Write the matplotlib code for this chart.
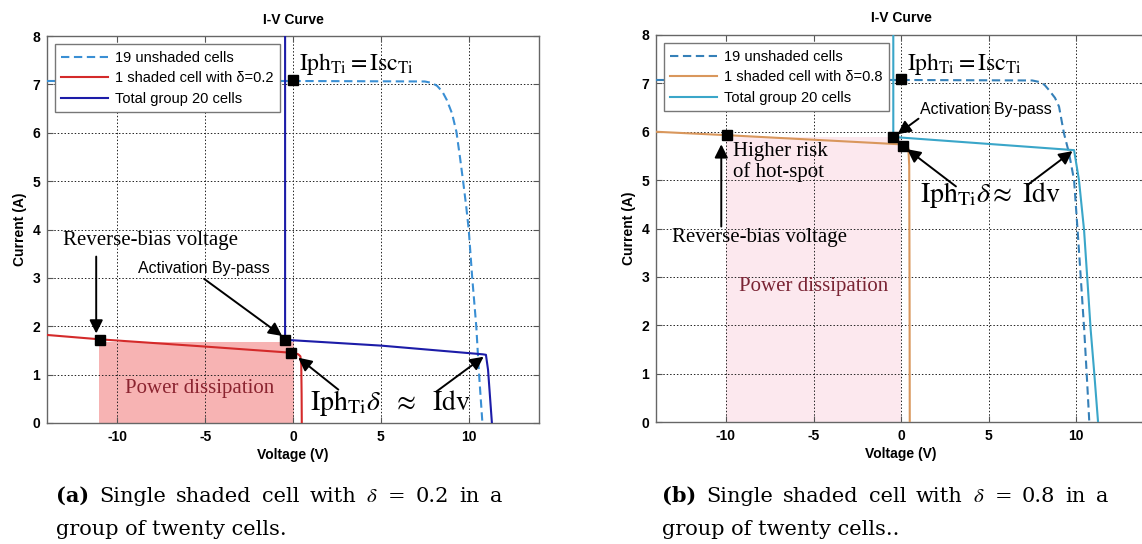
import matplotlib
matplotlib.use('Agg')
import matplotlib.pyplot as plt
from matplotlib.lines import Line2D

plt.rcParams['font.family'] = ['Liberation Sans', 'DejaVu Sans']
plt.rcParams['mathtext.fontset'] = 'stix'
plt.rcParams['axes.unicode_minus'] = False

SERIF = ['Liberation Serif', 'DejaVu Serif']
CAP_SERIF = ['DejaVu Serif']

# ---- data ----
# (a) delta = 0.2
v_unsh_a = [-14, 0, 7.5, 7.9, 8.2, 8.5, 8.75, 9.05, 9.3, 9.5, 9.68, 9.85, 10.0, 10.2, 10.43, 10.59, 10.78]
i_unsh_a = [7.07, 7.07, 7.06, 7.03, 6.97, 6.85, 6.68, 6.4, 6.02, 5.5, 5.0, 4.5, 4.0, 3.0, 2.0, 1.0, 0.0]
v_shad_a = [-14, -11, -5, 0, 0.3, 0.42, 0.47, 0.49, 0.5]
i_shad_a = [1.82, 1.73, 1.58, 1.45, 1.42, 1.38, 1.2, 0.6, 0.0]
v_tot_a = [-0.45, -0.45, 0, 5, 10.8, 10.98, 11.1, 11.2, 11.32]
i_tot_a = [8.5, 1.72, 1.71, 1.6, 1.42, 1.41, 1.1, 0.6, 0.0]
mark_v_a = [-11.0, -0.45, -0.1, 0.0]
mark_i_a = [1.72, 1.72, 1.44, 7.09]
rect_a = (-11.05, 0.05, 1.67)   # x0, x1, top

# (b) delta = 0.8
v_unsh_b = [-14, 0, 7.5, 7.9, 8.2, 8.46, 8.8, 9.03, 9.31, 9.6, 9.89, 10.09, 10.28, 10.47, 10.6, 10.76]
i_unsh_b = [7.07, 7.07, 7.06, 7.03, 6.97, 6.86, 6.7, 6.52, 5.97, 5.56, 5.0, 3.97, 2.94, 1.9, 1.07, 0.0]
v_shad_b = [-14, -10, 0, 0.3, 0.42, 0.47, 0.49, 0.5]
i_shad_b = [6.0, 5.93, 5.74, 5.71, 5.66, 5.3, 2.5, 0.0]
v_tot_b = [-0.44, -0.44, 0, 9.89, 10.17, 10.46, 10.65, 10.84, 11.03, 11.26]
i_tot_b = [8.5, 5.9, 5.88, 5.62, 5.0, 3.97, 2.94, 1.9, 1.07, 0.0]
mark_v_b = [-9.96, -0.44, 0.13, 0.0]
mark_i_b = [5.93, 5.9, 5.71, 7.09]
rect_b = (-10.0, 0.0, 5.9)

W, H = 1142, 544
fig = plt.figure(figsize=(W / 100, H / 100), dpi=100)
ax_a = fig.add_axes([47 / W, (H - 423) / H, 492 / W, 387 / H])
ax_b = fig.add_axes([656 / W, (H - 422) / H, 490 / W, 387 / H])


def style_axes(ax):
    ax.set_xlim(-14, 14)
    ax.set_ylim(0, 8)
    ax.set_xticks([-10, -5, 0, 5, 10])
    ax.set_yticks(range(9))
    ax.grid(True, linestyle=(0, (1.5, 2)), color='#222222', linewidth=0.7)
    ax.set_axisbelow(True)
    ax.tick_params(direction='in', length=4, top=True, right=True, color='#555555', pad=5)
    for t in ax.get_xticklabels() + ax.get_yticklabels():
        t.set_fontweight('bold')
        t.set_fontsize(10)
    for s in ax.spines.values():
        s.set_color('#666666')
        s.set_linewidth(1.0)
    ax.set_title('I-V Curve', fontweight='bold', fontsize=10, pad=9)
    ax.set_xlabel('Voltage (V)', fontweight='bold', fontsize=10, labelpad=3)
    ax.set_ylabel('Current (A)', fontweight='bold', fontsize=10, labelpad=4)


def arrow(ax, start, end):
    ax.annotate('', xy=end, xytext=start,
                arrowprops=dict(arrowstyle='-|>', color='k', lw=1.4, mutation_scale=20, shrinkA=0, shrinkB=0))


def draw_panel(ax, v_u, i_u, v_s, i_s, v_t, i_t, mv, mi, rect, c_u, c_s, c_t, c_rect, rect_alpha, delta):
    style_axes(ax)
    x0, x1, top = rect
    ax.fill_between([x0, x1], 0, top, color=c_rect, alpha=rect_alpha, lw=0, zorder=0.3)
    ax.plot(v_u, i_u, color=c_u, lw=1.5, dashes=(4, 2.2), zorder=3)
    ax.plot(v_s, i_s, color=c_s, lw=1.5, zorder=3)
    ax.plot(v_t, i_t, color=c_t, lw=1.5, zorder=3)
    ax.plot(mv, mi, 's', color='k', markersize=6.5, zorder=5)
    handles = [Line2D([], [], color=c_u, lw=1.5, dashes=(4, 2.2)),
               Line2D([], [], color=c_s, lw=1.5),
               Line2D([], [], color=c_t, lw=1.5)]
    labels = ['19 unshaded cells', '1 shaded cell with δ=' + delta, 'Total group 20 cells']
    leg = ax.legend(handles, labels, loc='upper left', bbox_to_anchor=(0.016, 0.979), borderaxespad=0,
                    fontsize=10.5, handlelength=3.2, handletextpad=0.45, labelspacing=0.45,
                    borderpad=0.45, fancybox=False, framealpha=1, edgecolor='#777777')
    leg.get_frame().set_linewidth(1.0)
    leg.set_zorder(6)


draw_panel(ax_a, v_unsh_a, i_unsh_a, v_shad_a, i_shad_a, v_tot_a, i_tot_a, mark_v_a, mark_i_a, rect_a,
           '#3a8fd4', '#d42a2a', '#1c1ca8', '#f59a9a', 0.75, '0.2')
draw_panel(ax_b, v_unsh_b, i_unsh_b, v_shad_b, i_shad_b, v_tot_b, i_tot_b, mark_v_b, mark_i_b, rect_b,
           '#3580b8', '#d9975c', '#3aa6c9', '#fbd9e3', 0.6, '0.8')

# annotations (a)
ax_a.text(0.35, 7.42, r'$\mathrm{Iph_{Ti} = Isc_{Ti}}$', fontsize=17, va='center', zorder=7)
ax_a.text(-8.1, 3.78, 'Reverse-bias voltage', family=SERIF, fontsize=15, ha='center', va='center')
arrow(ax_a, (-11.2, 3.44), (-11.2, 1.85))
ax_a.text(-5.05, 3.2, 'Activation By-pass', fontsize=11.5, ha='center', va='center')
arrow(ax_a, (-5.06, 2.98), (-0.62, 1.8))
ax_a.text(-5.3, 0.72, 'Power dissipation', family=SERIF, fontsize=15, ha='center', va='center', color='#8b2430')
ax_a.text(0.95, 0.42, r'$\mathrm{Iph_{Ti}}\delta\ \ \approx\ \ \mathrm{Idv}$', fontsize=20, va='center')
arrow(ax_a, (2.58, 0.69), (0.3, 1.35))
arrow(ax_a, (8.16, 0.65), (10.85, 1.37))

# annotations (b)
ax_b.text(0.37, 7.41, r'$\mathrm{Iph_{Ti} = Isc_{Ti}}$', fontsize=17, va='center', zorder=7)
ax_b.text(1.06, 6.46, 'Activation By-pass', fontsize=11.5, va='center')
arrow(ax_b, (1.0, 6.27), (-0.2, 5.95))
ax_b.text(-9.6, 5.38, 'Higher risk\nof hot-spot', family=SERIF, fontsize=15, va='center', linespacing=1.05)
ax_b.text(-8.1, 3.82, 'Reverse-bias voltage', family=SERIF, fontsize=15, ha='center', va='center')
arrow(ax_b, (-10.27, 4.04), (-10.27, 5.74))
ax_b.text(-5.0, 2.8, 'Power dissipation', family=SERIF, fontsize=15, ha='center', va='center', color='#7a2434')
ax_b.text(1.1, 4.69, r'$\mathrm{Iph_{Ti}}\delta\approx\ \mathrm{Idv}$', fontsize=20, va='center')
arrow(ax_b, (3.14, 4.87), (0.35, 5.64))
arrow(ax_b, (7.23, 4.9), (9.8, 5.6))


# captions, first line justified like the source document
def justified_line(words, x0, x1, y, size):
    r = fig.canvas.get_renderer()
    objs = [fig.text(0, 1 - y / H, w, fontsize=size, fontweight=wt, family=CAP_SERIF, va='baseline')
            for w, wt in words]
    widths = [o.get_window_extent(r).width for o in objs]
    gap = (x1 - x0 - sum(widths)) / (len(objs) - 1)
    x = x0
    for o, w in zip(objs, widths):
        o.set_x(x / W)
        x += w + gap


fig.canvas.draw()
cap_a = [('(a)', 'bold'), ('Single', 'normal'), ('shaded', 'normal'), ('cell', 'normal'), ('with', 'normal'),
         (r'$\delta$', 'normal'), ('=', 'normal'), ('0.2', 'normal'), ('in', 'normal'), ('a', 'normal')]
cap_b = [('(b)', 'bold'), ('Single', 'normal'), ('shaded', 'normal'), ('cell', 'normal'), ('with', 'normal'),
         (r'$\delta$', 'normal'), ('=', 'normal'), ('0.8', 'normal'), ('in', 'normal'), ('a', 'normal')]
justified_line(cap_a, 56, 502, 502, 15)
justified_line(cap_b, 662, 1108, 502, 15)
fig.text(56 / W, 1 - 535 / H, 'group of twenty cells.', family=CAP_SERIF, fontsize=15, va='baseline')
fig.text(662 / W, 1 - 535 / H, 'group of twenty cells..', family=CAP_SERIF, fontsize=15, va='baseline')

fig.savefig('out.png', dpi=100)
